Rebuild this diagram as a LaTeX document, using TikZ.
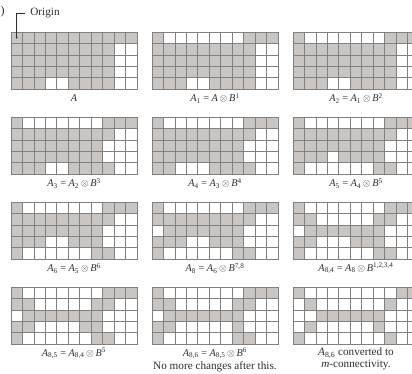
\documentclass[tikz,border=0pt]{standalone}
\usepackage{fontspec}
\setmainfont{Liberation Serif}
\definecolor{cellgray}{RGB}{201,197,195}
\definecolor{linegray}{RGB}{128,128,128}
\definecolor{txt}{RGB}{45,45,45}
\newcommand\cellgrid[3]{%
  \foreach \rowlist [count=\r from 0] in {#3}{%
    \foreach \v [count=\c from 0] in \rowlist {%
      \ifnum\v=1 \fill[cellgray] ({#1+\c*11.45},{#2+\r*11.45}) rectangle ++(11.45,11.45);\fi
    }}%
  \foreach \i in {0,...,11} \draw[gridline] ({#1+\i*11.45},#2) -- ++(0,57.25);
  \foreach \j in {0,...,5} \draw[gridline] (#1,{#2+\j*11.45}) -- ++(125.95,0);
}
\newcommand\iA{\textit{A}}
\newcommand\iB{\textit{B}}
\newcommand\ox{\,$\otimes$\,}
\newcommand\txtbig{\fontsize{11.2}{11.5}\selectfont}
\begin{document}
\begin{tikzpicture}[x=1pt,y=-1pt,
  gridline/.style={draw=linegray,line width=0.7pt},
  gridframe/.style={draw=linegray,line width=0.7pt,minimum width=125.95pt,minimum height=57.25pt,inner sep=0pt,outer sep=0pt,anchor=north west},
  lab/.style={text=txt,font=\fontsize{10.3}{10.3}\selectfont,inner sep=0pt,align=center},
  originline/.style={draw=txt,line width=0.6pt}]
\useasboundingbox (0,0) rectangle (412,374);
\clip (0,0) rectangle (412,374);
% row 1
\cellgrid{11}{32}{{1,1,1,1,1,1,1,1,1,1,1},{1,1,1,1,1,1,1,1,1,0,0},{1,1,1,1,1,1,1,1,1,0,0},{1,1,1,1,1,1,1,1,1,0,0},{1,1,1,0,0,1,1,1,1,0,0}}
\node[gridframe] (gA) at (11,32) {};
\cellgrid{152}{32}{{1,0,0,0,0,0,0,0,1,1,1},{1,1,1,1,1,1,1,1,1,0,0},{1,1,1,1,1,1,1,1,1,0,0},{1,1,1,1,1,1,1,1,1,0,0},{1,1,1,0,0,1,1,1,1,0,0}}
\node[gridframe] (gA1) at (152,32) {};
\cellgrid{293}{32}{{1,0,0,0,0,0,0,0,1,1,1},{1,1,1,1,1,1,1,1,1,0,0},{1,1,1,1,1,1,1,1,1,0,0},{1,1,1,1,1,1,1,1,1,0,0},{1,1,1,0,0,1,1,1,1,0,0}}
\node[gridframe] (gA2) at (293,32) {};
% row 2
\cellgrid{11}{117}{{1,0,0,0,0,0,0,0,1,1,1},{1,1,1,1,1,1,1,1,1,0,0},{1,1,1,1,1,1,1,1,0,0,0},{1,1,1,1,1,1,1,1,0,0,0},{1,1,1,0,0,1,1,1,1,0,0}}
\node[gridframe] (gA3) at (11,117) {};
\cellgrid{152}{117}{{1,0,0,0,0,0,0,0,1,1,1},{1,1,1,1,1,1,1,1,1,0,0},{1,1,1,1,1,1,1,1,0,0,0},{1,1,1,1,1,1,1,1,0,0,0},{1,1,0,0,0,1,1,1,1,0,0}}
\node[gridframe] (gA4) at (152,117) {};
\cellgrid{293}{117}{{1,0,0,0,0,0,0,0,1,1,1},{1,1,1,1,1,1,1,1,1,0,0},{1,1,1,1,1,1,1,1,0,0,0},{1,1,1,0,1,1,1,1,0,0,0},{1,0,0,0,0,0,0,1,1,0,0}}
\node[gridframe] (gA5) at (293,117) {};
% row 3
\cellgrid{11}{202}{{1,0,0,0,0,0,0,0,1,1,1},{1,1,1,1,1,1,1,1,1,0,0},{1,1,1,1,1,1,1,1,0,0,0},{1,1,1,0,0,1,1,1,0,0,0},{1,0,0,0,0,0,0,1,1,0,0}}
\node[gridframe] (gA6) at (11,202) {};
\cellgrid{152}{202}{{1,0,0,0,0,0,0,0,1,1,1},{1,1,1,1,1,1,1,1,1,0,0},{0,1,1,1,1,1,1,1,0,0,0},{1,1,1,0,0,1,1,1,0,0,0},{1,0,0,0,0,0,0,1,1,0,0}}
\node[gridframe] (gA8) at (152,202) {};
\cellgrid{293}{202}{{1,0,0,0,0,0,0,0,1,1,1},{1,1,0,0,0,0,0,1,1,0,0},{0,1,1,1,1,1,1,1,0,0,0},{1,1,0,0,0,1,1,1,0,0,0},{1,0,0,0,0,0,0,1,1,0,0}}
\node[gridframe] (gA84) at (293,202) {};
% row 4
\cellgrid{11}{287}{{1,0,0,0,0,0,0,0,1,1,1},{1,1,0,0,0,0,0,1,1,0,0},{0,1,1,1,1,1,1,1,0,0,0},{1,1,0,0,0,0,1,1,0,0,0},{1,0,0,0,0,0,0,1,1,0,0}}
\node[gridframe] (gA85) at (11,287) {};
\cellgrid{152}{287}{{1,0,0,0,0,0,0,0,1,1,1},{1,1,0,0,0,0,0,1,1,0,0},{0,1,1,1,1,1,1,1,0,0,0},{1,1,0,0,0,0,0,1,0,0,0},{1,0,0,0,0,0,0,1,1,0,0}}
\node[gridframe] (gA86) at (152,287) {};
\cellgrid{293}{287}{{1,0,0,0,0,0,0,0,0,1,1},{0,1,0,0,0,0,0,0,1,0,0},{0,0,1,1,1,1,1,1,0,0,0},{0,1,0,0,0,0,0,1,0,0,0},{1,0,0,0,0,0,0,0,1,0,0}}
\node[gridframe] (gM) at (293,287) {};
% labels
\node[lab] (lA)   at ([yshift=-9pt]gA.south)  {\iA};
\node[lab] (lA1)  at ([yshift=-9pt]gA1.south) {\iA\textsubscript{1} = \iA\ox\iB\textsuperscript{1}};
\node[lab] (lA2)  at ([yshift=-9pt]gA2.south) {\iA\textsubscript{2} = \iA\textsubscript{1}\ox\iB\textsuperscript{2}};
\node[lab] (lA3)  at ([yshift=-9pt]gA3.south) {\iA\textsubscript{3} = \iA\textsubscript{2}\ox\iB\textsuperscript{3}};
\node[lab] (lA4)  at ([yshift=-9pt]gA4.south) {\iA\textsubscript{4} = \iA\textsubscript{3}\ox\iB\textsuperscript{4}};
\node[lab] (lA5)  at ([yshift=-9pt]gA5.south) {\iA\textsubscript{5} = \iA\textsubscript{4}\ox\iB\textsuperscript{5}};
\node[lab] (lA6)  at ([yshift=-9pt]gA6.south) {\iA\textsubscript{6} = \iA\textsubscript{5}\ox\iB\textsuperscript{6}};
\node[lab] (lA8)  at ([yshift=-9pt]gA8.south) {\iA\textsubscript{8} = \iA\textsubscript{6}\ox\iB\textsuperscript{7,8}};
\node[lab] (lA84) at ([yshift=-9pt]gA84.south) {\iA\textsubscript{8,4} = \iA\textsubscript{8}\ox\iB\textsuperscript{1,2,3,4}};
\node[lab] (lA85) at ([yshift=-9pt]gA85.south) {\iA\textsubscript{8,5} = \iA\textsubscript{8,4}\ox\iB\textsuperscript{5}};
\node[lab,anchor=north] (lA86) at ([yshift=-3.5pt]gA86.south) {\iA\textsubscript{8,6} = \iA\textsubscript{8,5}\ox\iB\textsuperscript{6}};
\node[lab,anchor=north,font=\txtbig] (lA86b) at ([yshift=-2pt]lA86.south) {No more changes after this.};
\node[lab,anchor=north,font=\txtbig] (lM) at ([yshift=-3.5pt]gM.south) {\iA\textsubscript{8,6} converted to};
\node[lab,anchor=north,font=\txtbig] (lMb) at ([yshift=-1.5pt]lM.south) {\textit{m}-connectivity.};
% origin marker
\node[lab,font=\txtbig] (orig) at (45,13) {Origin};
\coordinate (ocell) at (16.7,37.7);
\draw[originline] ([xshift=-5pt]orig.west) -| (ocell);
\fill[txt] (ocell) circle (1pt);
\node[lab,font=\fontsize{12}{12}\selectfont] (paren) at (2.5,12) {)};
\end{tikzpicture}
\end{document}
